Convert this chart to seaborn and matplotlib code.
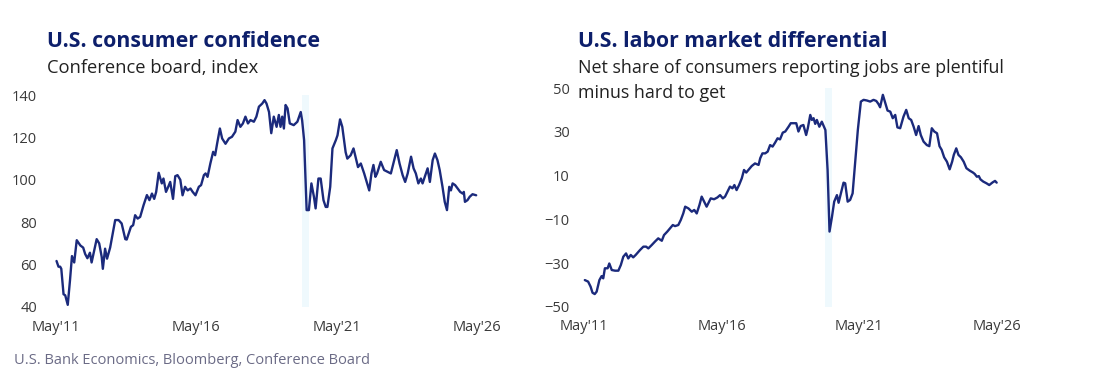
import numpy as np
import pandas as pd
import matplotlib
matplotlib.use("Agg")
import matplotlib.pyplot as plt
import seaborn as sns

# consumer confidence (Conference Board index)
conf_dates = [2011.35, 2011.42, 2011.48, 2011.52, 2011.6, 2011.66, 2011.75, 2011.83, 2011.9, 2011.98,
              2012.07, 2012.2, 2012.3, 2012.37, 2012.45, 2012.54, 2012.6, 2012.78, 2012.87, 2012.96,
              2013.0, 2013.08, 2013.15, 2013.26, 2013.44, 2013.56, 2013.67, 2013.8, 2013.85, 2014.0,
              2014.08, 2014.15, 2014.24, 2014.33, 2014.45, 2014.57, 2014.66, 2014.75, 2014.83, 2014.9,
              2014.99, 2015.05, 2015.1, 2015.16, 2015.25, 2015.33, 2015.4, 2015.5, 2015.58, 2015.66,
              2015.76, 2015.84, 2015.93, 2016.02, 2016.12, 2016.2, 2016.3, 2016.42, 2016.5, 2016.6,
              2016.66, 2016.73, 2016.83, 2016.93, 2017.0, 2017.07, 2017.17, 2017.25, 2017.37, 2017.49,
              2017.6, 2017.72, 2017.8, 2017.9, 2017.99, 2018.08, 2018.17, 2018.26, 2018.38, 2018.47,
              2018.56, 2018.68, 2018.76, 2018.83, 2018.92, 2019.0, 2019.09, 2019.19, 2019.27, 2019.33,
              2019.39, 2019.45, 2019.51, 2019.58, 2019.66, 2019.8, 2019.93, 2020.05, 2020.1, 2020.17,
              2020.26, 2020.34, 2020.43, 2020.52, 2020.58, 2020.68, 2020.76, 2020.86, 2020.94, 2021.0,
              2021.1, 2021.18, 2021.3, 2021.36, 2021.45, 2021.53, 2021.65, 2021.71, 2021.83, 2021.93,
              2022.0, 2022.09, 2022.19, 2022.31, 2022.4, 2022.49, 2022.57, 2022.64, 2022.71, 2022.77,
              2022.9, 2023.02, 2023.14, 2023.26, 2023.38, 2023.47, 2023.57, 2023.68, 2023.77, 2023.86,
              2023.98, 2024.07, 2024.15, 2024.24, 2024.33, 2024.39, 2024.47, 2024.57, 2024.65, 2024.75,
              2024.83, 2024.92, 2025.0, 2025.1, 2025.18, 2025.26, 2025.34, 2025.4, 2025.46, 2025.55,
              2025.64, 2025.73, 2025.82, 2025.86, 2025.9, 2025.99, 2026.07, 2026.17, 2026.3]
conf_values = [61.7, 59, 59, 58, 46, 45.5, 41, 52.6, 64, 61,
               71.5, 69, 68, 65, 63, 65.6, 61, 72, 70, 63.6,
               58, 67.5, 62.8, 68, 81, 81, 79.4, 72, 71.8, 77.8,
               78.6, 83.3, 81.7, 82.5, 88, 92.8, 90.4, 93.5, 91, 94.3,
               103.3, 100.6, 98.3, 100.6, 94.3, 96.7, 99, 91, 101.7, 102.2,
               100, 92.7, 96.7, 95, 95.9, 94.3, 92.7, 96.7, 97.5, 102.2,
               103, 101.4, 107.7, 113.2, 111.6, 117, 124.2, 119.5, 117, 119.5,
               120.3, 122.7, 128.2, 125, 126.6, 129.8, 126.6, 128.2, 127.4, 129.8,
               134.5, 136, 137.6, 136, 132, 122, 129.8, 125, 130.6, 125,
               129.8, 124.2, 135.3, 133.7, 126.6, 125.8, 127.4, 132, 128, 118.7,
               85.7, 85.7, 98.3, 92, 86.5, 100.6, 100.6, 90.4, 87.2, 87.2,
               96.7, 114.8, 118.7, 121, 128.5, 125, 113, 110, 111.6, 114.8,
               110.9, 106, 107.7, 103, 99, 95, 103, 107, 101.4, 103,
               108.5, 104.6, 103.8, 103, 109.3, 114, 107.7, 102.2, 99, 103,
               110.9, 105.4, 103, 98.3, 100.6, 98.3, 101.4, 105.4, 99, 109.3,
               112.4, 109.3, 104.6, 96.7, 89.6, 85.7, 96.7, 95, 98.3, 97.5,
               95.9, 94.3, 93.5, 94.3, 89.6, 90.4, 92, 93.2, 92.7]

# labor market differential: jobs plentiful minus hard to get
labor_dates = [2011.35, 2011.47, 2011.56, 2011.63, 2011.71, 2011.78, 2011.88, 2011.96, 2012.02, 2012.08,
               2012.18, 2012.24, 2012.33, 2012.45, 2012.57, 2012.66, 2012.75, 2012.85, 2012.93, 2013.02,
               2013.11, 2013.2, 2013.36, 2013.48, 2013.58, 2013.66, 2013.78, 2013.9, 2014.02, 2014.15,
               2014.23, 2014.35, 2014.45, 2014.55, 2014.63, 2014.75, 2014.84, 2014.93, 2015.0, 2015.12,
               2015.24, 2015.33, 2015.42, 2015.52, 2015.6, 2015.69, 2015.78, 2015.84, 2015.93, 2016.05,
               2016.17, 2016.27, 2016.37, 2016.45, 2016.54, 2016.63, 2016.72, 2016.79, 2016.87, 2016.96,
               2017.06, 2017.14, 2017.22, 2017.3, 2017.42, 2017.54, 2017.67, 2017.73, 2017.81, 2017.91,
               2018.0, 2018.09, 2018.18, 2018.27, 2018.36, 2018.45, 2018.55, 2018.64, 2018.76, 2018.84,
               2018.94, 2019.04, 2019.12, 2019.2, 2019.3, 2019.4, 2019.46, 2019.55, 2019.61, 2019.67,
               2019.73, 2019.79, 2019.88, 2019.97, 2020.04, 2020.1, 2020.18, 2020.25, 2020.34, 2020.42,
               2020.52, 2020.58, 2020.68, 2020.76, 2020.82, 2020.91, 2021.0, 2021.09, 2021.18, 2021.28,
               2021.39, 2021.49, 2021.61, 2021.73, 2021.85, 2021.95, 2022.03, 2022.09, 2022.19, 2022.28,
               2022.36, 2022.46, 2022.55, 2022.64, 2022.72, 2022.82, 2022.94, 2023.04, 2023.13, 2023.22,
               2023.31, 2023.4, 2023.49, 2023.57, 2023.67, 2023.79, 2023.88, 2023.97, 2024.06, 2024.16,
               2024.25, 2024.33, 2024.42, 2024.52, 2024.62, 2024.71, 2024.77, 2024.86, 2024.94, 2025.03,
               2025.13, 2025.23, 2025.35, 2025.47, 2025.53, 2025.61, 2025.68, 2025.74, 2025.84, 2025.96,
               2026.06, 2026.18, 2026.27, 2026.33]
labor_values = [-37.8, -38.5, -40.8, -43.6, -44.2, -43.1, -37.8, -36, -37, -32.4,
                -32.4, -30.2, -33.2, -33.5, -33.5, -30.9, -27.1, -25.6, -27.9, -26.3,
                -27.4, -26.3, -24, -22.5, -22.5, -23.3, -21.8, -20.2, -18.7, -19.8,
                -17.2, -15.6, -14.1, -12.6, -13.1, -12.6, -10.3, -7.3, -4.2, -5,
                -6.5, -5.7, -7.3, -3.4, 0.4, -1.9, -4.2, -2.7, -0.4, -0.8,
                0, 1.1, -0.4, 0.4, 2.7, 5, 4.2, 5.7, 3.4, 5.7,
                8.8, 12.6, 11.4, 12.6, 14.4, 15.6, 14.9, 18, 20.2, 20.2,
                21, 24, 23.3, 25.1, 27.1, 26.6, 29.7, 30.2, 32.4, 34,
                34, 34, 30.2, 32.7, 33.2, 28.6, 31.7, 37.8, 35.5, 36.3,
                33.7, 35.5, 32.4, 34.7, 32.7, 30.9, 12.6, -15.6, -8.8, -1.9,
                1.1, -2.4, 2.7, 6.8, 6.5, -1.9, -1.1, 1.9, 15.6, 30.9,
                43.9, 44.7, 44.4, 43.9, 44.7, 44.2, 42.8, 41.3, 47, 43.1,
                39.8, 39.3, 36.3, 37.8, 32.1, 31.7, 37, 40.1, 36.3, 35.5,
                32.4, 28.6, 32.7, 28.6, 25.6, 24, 23.5, 31.7, 30.2, 29.4,
                23.5, 21.8, 18.4, 16.4, 12.9, 16.4, 19.5, 22.5, 19.5, 18.4,
                16.4, 13.4, 12.3, 11.4, 10.8, 9.5, 9.8, 8.3, 7.3, 6.5,
                5.7, 6.9, 7.6, 6.8]

# COVID recession shading (Feb-Apr 2020)
recession = (2020.1, 2020.35)

tick_pos = [2011.33, 2016.33, 2021.33, 2026.33]
tick_labels = ["May'11", "May'16", "May'21", "May'26"]
conf_ticks = [40, 60, 80, 100, 120, 140]
labor_ticks = [-50, -30, -10, 10, 30, 50]

conf = pd.DataFrame({"date": conf_dates, "value": conf_values})
labor = pd.DataFrame({"date": labor_dates, "value": labor_values})

sns.set_style("white")
plt.rcParams["font.family"] = ["Open Sans", "DejaVu Sans"]

line_color = "#1b2a7c"
title_color = "#0d1f6b"
shade_color = "#eff9fd"

W, H = 1095, 381
fig = plt.figure(figsize=(W / 100, H / 100), dpi=100)

ax1 = fig.add_axes([46.7 / W, (H - 311.2) / H, 437.9 / W, 220.4 / H])
ax2 = fig.add_axes([575.2 / W, (H - 311.1) / H, 428.9 / W, 227.2 / H])

panels = [
    (ax1, conf, conf_ticks, (38, 142), 7),
    (ax2, labor, labor_ticks, (-52, 52), 4),
]
for ax, df, yt, ylim, ypad in panels:
    ax.fill_between(list(recession), yt[0], yt[-1], color=shade_color, lw=0, zorder=0)
    sns.lineplot(data=df, x="date", y="value", ax=ax, color=line_color, lw=1.7)
    ax.set_xlim(2011.0, 2026.6)
    ax.set_ylim(*ylim)
    ax.set_xticks(tick_pos)
    ax.set_xticklabels(tick_labels)
    ax.set_yticks(yt)
    ax.set_xlabel("")
    ax.set_ylabel("")
    ax.tick_params(axis="both", length=0, labelsize=10.5, labelcolor="#3a3a3a")
    ax.tick_params(axis="x", pad=6)
    ax.tick_params(axis="y", pad=ypad)
    for s in ax.spines.values():
        s.set_visible(False)
    ax.patch.set_alpha(0)

def px(x, y):
    return x / W, 1 - y / H

fig.text(*px(47, 47), "U.S. consumer confidence", fontsize=15.3, fontweight="bold",
         color=title_color, va="baseline")
fig.text(*px(47, 73), "Conference board, index", fontsize=13.2, color="#222222", va="baseline")
fig.text(*px(578, 47), "U.S. labor market differential", fontsize=15.3, fontweight="bold",
         color=title_color, va="baseline")
fig.text(*px(578, 73), "Net share of consumers reporting jobs are plentiful", fontsize=12.9,
         color="#222222", va="baseline")
fig.text(*px(578, 98), "minus hard to get", fontsize=12.9, color="#222222", va="baseline")
fig.text(*px(14, 364), "U.S. Bank Economics, Bloomberg, Conference Board", fontsize=10.5,
         color="#6b6b86", va="baseline")

fig.savefig("out.png", dpi=100)
